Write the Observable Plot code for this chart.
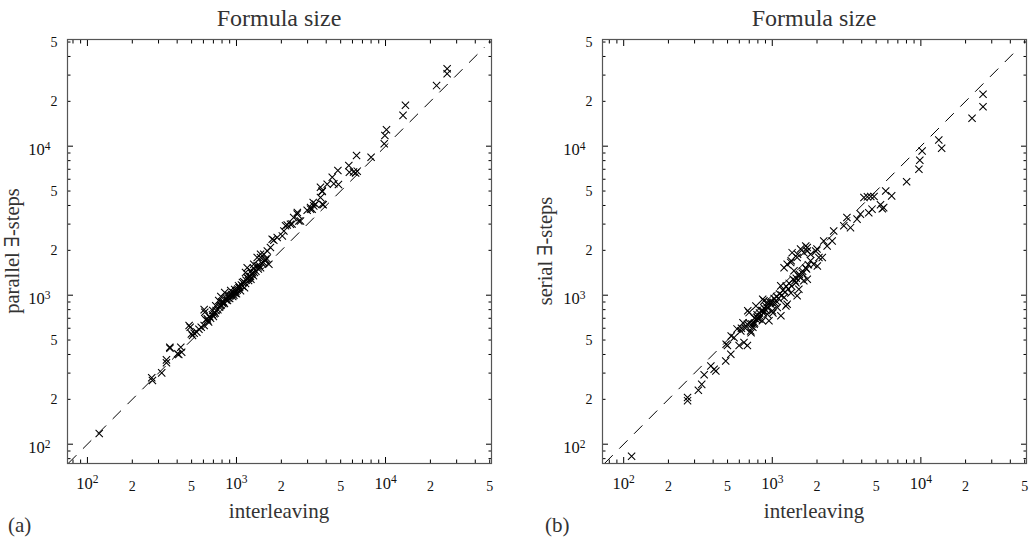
<!DOCTYPE html>
<html>
<head>
<meta charset="utf-8">
<script src="https://cdn.jsdelivr.net/npm/d3@7"></script>
<script src="https://cdn.jsdelivr.net/npm/@observablehq/plot@0.6"></script>
<style>
  body { margin: 0; background: #fff; }
  #chart { position: relative; width: 1033px; height: 544px; overflow: hidden; }
  #chart > svg { position: absolute; top: 0; }
  #overlay { left: 0; pointer-events: none; }
</style>
</head>
<body>
<div id="chart"></div>
<script>
const FONT = '"Liberation Serif", "DejaVu Serif", serif';

// ---- data ----
const interleavingA = [120,273,270,315,339,339,358,357,402,423,429,410,489,481,507,498,520,542,607,622,613,637,607,693,707,650,670,700,720,726,750,760,780,785,800,809,830,834,861,870,888,900,915,930,944,960,973,990,1000,1020,1032,1050,1064,1097,1100,1132,1150,1150,1180,1180,1200,1205,1242,1250,1250,1282,1300,1300,1306,1350,1377,1377,1400,1450,1450,1450,1518,1525,1566,1610,1650,1690,1736,1780,1876,2030,2080,2133,2190,2303,2360,2420,2556,2560,2620,2688,2980,3140,3140,3220,3270,3300,3390,3660,3660,3760,3760,3760,3820,4060,4390,4500,4790,4830,5670,5720,6100,6300,6390,6460,8000,9800,9900,10150,13100,13600,22000,25900,25900,
  560,580,640,660,690,730,770,790,820,850,880,910,950,980,1010,1040,1080,1120,1160,1220,1270,1320,1420,1480,1560,1600];
const parallelSteps = [118,268,279,301,352,368,441,448,404,448,414,400,609,626,537,550,555,565,626,684,768,694,800,789,750,660,700,720,760,850,800,921,850,979,900,879,880,1042,951,920,996,950,1076,1010,979,1000,1091,1060,1023,1100,1159,1130,1072,1216,1150,1122,1200,1418,1530,1310,1300,1254,1334,1280,1450,1415,1350,1520,1615,1450,1573,1790,1500,1530,1790,1885,1655,1885,1745,1980,1615,2090,2375,2340,2435,2500,2700,2920,2960,2995,3000,3320,3500,3590,3150,3150,3720,3780,3870,3780,4180,3975,4080,4520,5310,4960,5010,4080,4040,5560,6190,5600,6870,5540,7420,6690,6700,6600,8660,6800,8440,10400,11800,12900,16100,18800,25500,30600,33100,
  590,610,680,720,740,790,830,860,900,930,960,990,1040,1030,1080,1120,1170,1230,1260,1330,1390,1420,1580,1640,1700,1760];

const interleavingB = [113,269,269,318,335,348,386,406,417,486,489,499,526,529,553,579,598,614,635,645,680,680,684,698,716,720,740,754,760,776,780,793,800,814,830,857,862,866,870,879,900,925,925,940,950,980,1000,1010,1050,1060,1080,1100,1140,1143,1160,1200,1200,1220,1235,1260,1260,1280,1330,1335,1340,1350,1360,1400,1420,1443,1470,1470,1480,1500,1510,1550,1550,1600,1630,1630,1680,1700,1720,1720,1720,1810,1810,1900,1960,2000,2010,2060,2170,2220,2340,2530,2590,3030,3180,3360,3720,3920,4140,4370,4460,4600,4690,4840,5350,5500,5620,5800,6360,8020,9700,9840,10200,13200,13800,22100,26200,26200,
  620,660,700,730,760,790,820,850,880,910,960,990,1030,1070,1120,1180,1240,1300,1380,1450,1520,1600,1680,1750];
const serialSteps = [83,206,196,230,252,292,335,318,310,362,469,459,402,533,519,594,459,575,652,481,638,459,785,764,575,560,610,638,650,847,690,708,700,693,720,673,940,785,760,916,800,745,892,820,673,870,785,760,880,916,826,950,1155,727,1000,964,1530,1050,847,870,1610,1100,1660,1036,1700,1150,1930,1460,1250,1210,990,1790,1880,1350,1097,1313,2040,1400,1250,1930,2140,1500,1280,1980,2090,1880,1700,1610,1980,2040,1570,1790,1790,2310,2140,2310,2700,2920,3320,2840,3240,3500,4520,4570,3580,4600,3780,4590,4040,3800,3870,5010,4640,5780,7010,8050,9290,11000,9700,15400,18400,22300,
  600,600,650,640,700,740,760,790,820,840,900,900,950,980,1020,1080,1150,1200,1280,1300,1380,1450,1520,1600];

const diagonal = [74.5, 46000];
const majorTicks = [100, 1000, 10000];
const majorTickLabels = ["10^2", "10^3", "10^4"];
const minorTicks = [80, 90, 200, 300, 400, 500, 600, 700, 800, 900, 2000, 3000, 4000, 5000, 6000, 7000, 8000, 9000, 20000, 30000, 40000, 50000];
const labeledMinor = [200, 500, 2000, 5000, 20000, 50000];
const labeledMinorText = ["2", "5", "2", "5", "2", "5"];

const titleText = "Formula size";
const xLabelText = "interleaving";
const yLabelsText = ["parallel ∃-steps", "serial ∃-steps"];
const panelTags = ["(a)", "(b)"];

const blank = () => "";

function panel({xs, ys, xDomain, yDomain, width, ml, mr}) {
  const data = xs.map((x, i) => ({x, y: ys[i]}));
  const svg = Plot.plot({
    width, height: 544,
    marginLeft: ml, marginRight: mr, marginTop: 39, marginBottom: 81,
    x: {type: "log", domain: xDomain},
    y: {type: "log", domain: yDomain},
    style: {background: "transparent", fontFamily: FONT, color: "#000", overflow: "visible"},
    marks: [
      Plot.line(diagonal, {x: d => d, y: d => d, stroke: "#000", strokeWidth: 1, strokeDasharray: "11,10"}),
      Plot.dot(data, {x: "x", y: "y", symbol: "times", r: 3.4, stroke: "#000", strokeWidth: 1.05}),
      // tick lines (inward, mirrored)
      Plot.axisX({anchor: "bottom", ticks: majorTicks, tickSize: -6, tickFormat: blank, label: null}),
      Plot.axisX({anchor: "bottom", ticks: minorTicks, tickSize: -3.5, tickFormat: blank, label: null}),
      Plot.axisX({anchor: "top", ticks: majorTicks, tickSize: -6, tickFormat: blank, label: null}),
      Plot.axisX({anchor: "top", ticks: minorTicks, tickSize: -3.5, tickFormat: blank, label: null}),
      Plot.axisY({anchor: "left", ticks: majorTicks, tickSize: -6, tickFormat: blank, label: null}),
      Plot.axisY({anchor: "left", ticks: minorTicks, tickSize: -3.5, tickFormat: blank, label: null}),
      Plot.axisY({anchor: "right", ticks: majorTicks, tickSize: -6, tickFormat: blank, label: null}),
      Plot.axisY({anchor: "right", ticks: minorTicks, tickSize: -3.5, tickFormat: blank, label: null}),
      // tick labels placed through the scales
      Plot.text(majorTicks, {x: d => d, frameAnchor: "bottom", dy: 25, text: (d, i) => majorTickLabels[i], fontSize: 16.5, fill: "#111"}),
      Plot.text(labeledMinor, {x: d => d, frameAnchor: "bottom", dy: 27, text: (d, i) => labeledMinorText[i], fontSize: 14, fill: "#111"}),
      Plot.text(majorTicks, {y: d => d, frameAnchor: "left", dx: -17, dy: 4, textAnchor: "end", text: (d, i) => majorTickLabels[i], fontSize: 16.5, fill: "#111"}),
      Plot.text(labeledMinor, {y: d => d, frameAnchor: "left", dx: -10, textAnchor: "end", text: (d, i) => labeledMinorText[i], fontSize: 14, fill: "#111"}),
      Plot.frame({stroke: "#555", strokeWidth: 1.2})
    ]
  });
  const ns = "http://www.w3.org/2000/svg";
  svg.querySelectorAll("text").forEach(t => {
    const m = /^10\^(\d)$/.exec(t.textContent);
    if (m) {
      t.textContent = "10";
      const ts = document.createElementNS(ns, "tspan");
      ts.setAttribute("dy", "-0.5em");
      ts.setAttribute("font-size", "11.5px");
      ts.textContent = m[1];
      t.appendChild(ts);
    }
  });
  return svg;
}

const chart = document.getElementById("chart");
const a = panel({xs: interleavingA, ys: parallelSteps, xDomain: [73.5, 51400], yDomain: [74.2, 52000], width: 516, ml: 67, mr: 25});
a.style.left = "0px";
const b = panel({xs: interleavingB, ys: serialSteps, xDomain: [72, 51400], yDomain: [74.2, 52000], width: 517, ml: 86, mr: 7});
b.style.left = "516px";
chart.appendChild(a);
chart.appendChild(b);

// overlay text: titles, axis labels, panel tags
const ns = "http://www.w3.org/2000/svg";
const ov = document.createElementNS(ns, "svg");
ov.setAttribute("id", "overlay");
ov.setAttribute("width", 1033);
ov.setAttribute("height", 544);
ov.style.fontFamily = FONT;
function addText(str, x, y, size, anchor, rotate, fill) {
  const t = document.createElementNS(ns, "text");
  t.setAttribute("x", x); t.setAttribute("y", y);
  t.setAttribute("font-size", size);
  t.setAttribute("text-anchor", anchor);
  t.setAttribute("fill", fill || "#333");
  if (rotate) t.setAttribute("transform", `rotate(${rotate} ${x} ${y})`);
  t.textContent = str;
  ov.appendChild(t);
}
const centers = [279, 814];
centers.forEach(cx => {
  addText(titleText, cx, 26, 24, "middle");
  addText(xLabelText, cx, 518, 21, "middle");
});
addText(yLabelsText[0], 19, 251, 20.5, "middle", -90);
addText(yLabelsText[1], 552, 251, 20.5, "middle", -90);
addText(panelTags[0], 8, 532, 21, "start");
addText(panelTags[1], 545, 532, 21, "start");
chart.appendChild(ov);
</script>
</body>
</html>
